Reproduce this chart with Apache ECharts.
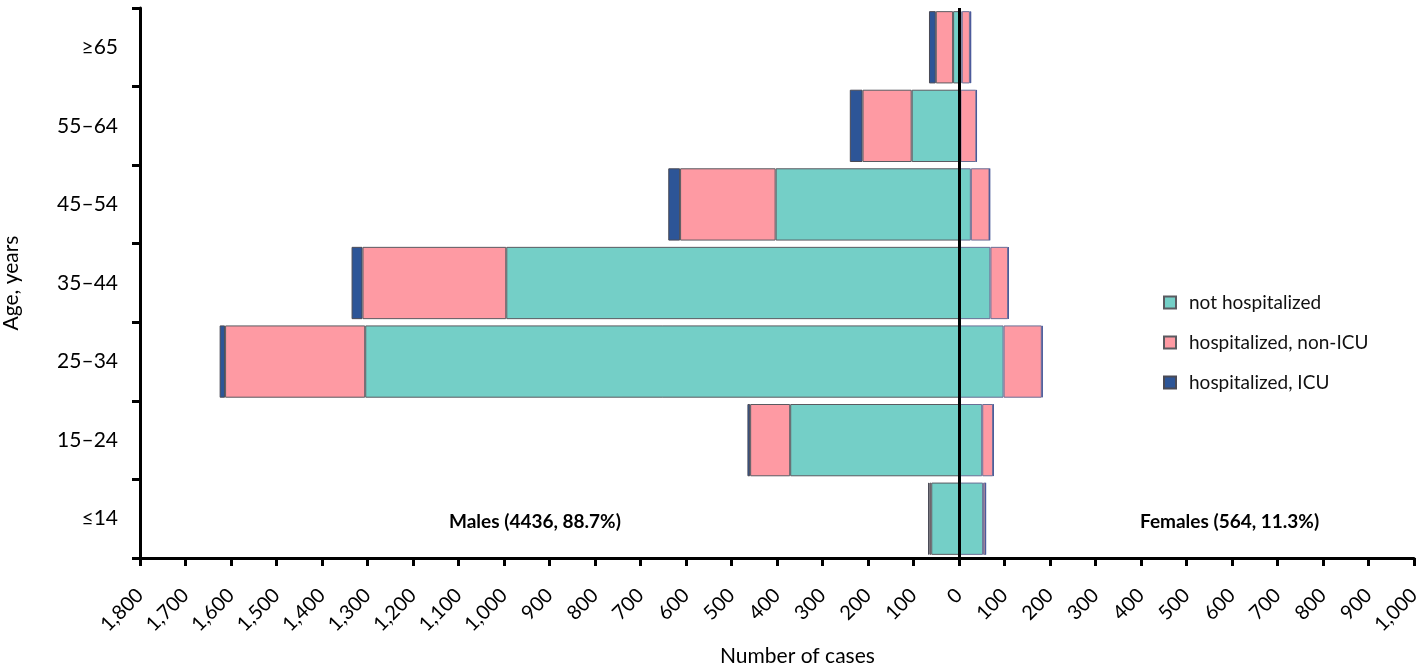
<!DOCTYPE html>
<html>
<head>
<meta charset="utf-8">
<script src="https://cdn.jsdelivr.net/npm/echarts@6/dist/echarts.min.js"></script>
<style>
  html, body { margin: 0; padding: 0; background: #fff; }
  #chart { width: 1418px; height: 670px; }
</style>
</head>
<body>
<div id="chart"></div>
<script>
// age groups, bottom to top
var ages = ['≤14', '15–24', '25–34', '35–44', '45–54', '55–64', '≥65'];

// males (drawn to the left, as negatives)
var maleNotHosp = [61, 371, 1305, 995, 403, 104, 13];
var maleNonIcu = [4, 88, 308, 316, 210, 108, 38];
var maleIcu = [3, 6, 12, 24, 26, 28, 15];

// females
var femaleNotHosp = [53, 51, 98, 69, 26, 3, 6];
var femaleNonIcu = [5, 24, 84, 39, 41, 35, 18];
var femaleIcu = [1, 1, 2, 1, 1, 1, 3];

var xTicks = { min: -1800, max: 1000, step: 100 };

var colors = {
  notHosp: '#74cfc7',
  nonIcu: '#fe9aa3',
  icu: '#2d5597'
};

var font = 'Lato, "Open Sans", sans-serif';

function neg(arr) {
  return arr.map(function (v) { return -v; });
}

function barSeries(name, stack, data, color, border) {
  return {
    name: name,
    type: 'bar',
    stack: stack,
    data: data,
    barGap: '-100%',
    barCategoryGap: '8%',
    itemStyle: {
      color: color,
      borderColor: border,
      borderWidth: 1
    }
  };
}

var chart = echarts.init(document.getElementById('chart'));

var series = [
  barSeries('not hospitalized', 'm', neg(maleNotHosp), colors.notHosp, '#5a5a60'),
  barSeries('hospitalized, non-ICU', 'm', neg(maleNonIcu), colors.nonIcu, '#5a5a60'),
  barSeries('hospitalized, ICU', 'm', neg(maleIcu), colors.icu, '#4a4a55'),
  barSeries('not hospitalized', 'f', femaleNotHosp, colors.notHosp, '#6a6f95'),
  barSeries('hospitalized, non-ICU', 'f', femaleNonIcu, colors.nonIcu, '#6a6f95'),
  barSeries('hospitalized, ICU', 'f', femaleIcu, colors.icu, '#4a5a9a')
];

// the vertical zero line
series[0].markLine = {
  silent: true,
  symbol: 'none',
  label: { show: false },
  lineStyle: { color: '#000', width: 3, type: 'solid' },
  data: [{ xAxis: 0 }]
};

chart.setOption({
  animation: false,
  textStyle: { fontFamily: font },
  grid: { left: 140, right: 4, top: 8, bottom: 112, containLabel: false, outerBoundsMode: 'none' },
  legend: {
    orient: 'vertical',
    left: 1158,
    top: 288,
    itemWidth: 12,
    itemHeight: 12,
    itemGap: 21,
    icon: 'rect',
    data: ['not hospitalized', 'hospitalized, non-ICU', 'hospitalized, ICU'],
    textStyle: { fontFamily: font, fontSize: 19, color: '#111', padding: [0, 0, 0, 8] }
  },
  xAxis: {
    type: 'value',
    min: xTicks.min,
    max: xTicks.max,
    interval: xTicks.step,
    splitLine: { show: false },
    axisLine: { show: true, onZero: false, lineStyle: { color: '#000', width: 3 } },
    axisTick: { show: true, length: 8, lineStyle: { color: '#000', width: 3 } },
    axisLabel: {
      rotate: 45,
      margin: 34,
      fontSize: 20,
      color: '#000',
      fontFamily: font,
      formatter: function (v) {
        return Math.abs(v).toLocaleString('en-US');
      }
    }
  },
  yAxis: {
    type: 'category',
    data: ages,
    name: 'Age, years',
    nameLocation: 'middle',
    nameGap: 118,
    nameTextStyle: { fontSize: 21, color: '#000', fontFamily: font },
    axisLine: { show: true, onZero: false, lineStyle: { color: '#000', width: 3 } },
    axisTick: { show: true, length: 8, lineStyle: { color: '#000', width: 3 } },
    axisLabel: { fontSize: 21, color: '#000', margin: 22, fontFamily: font }
  },
  graphic: [
    {
      type: 'text',
      left: 720,
      top: 646,
      style: { text: 'Number of cases', font: '21px ' + font, fill: '#000' }
    },
    {
      type: 'text',
      left: 449,
      top: 512,
      style: { text: 'Males (4436, 88.7%)', font: 'bold 19px ' + font, fill: '#000' }
    },
    {
      type: 'text',
      left: 1140,
      top: 512,
      style: { text: 'Females (564, 11.3%)', font: 'bold 19px ' + font, fill: '#000' }
    }
  ],
  series: series
});
</script>
</body>
</html>
